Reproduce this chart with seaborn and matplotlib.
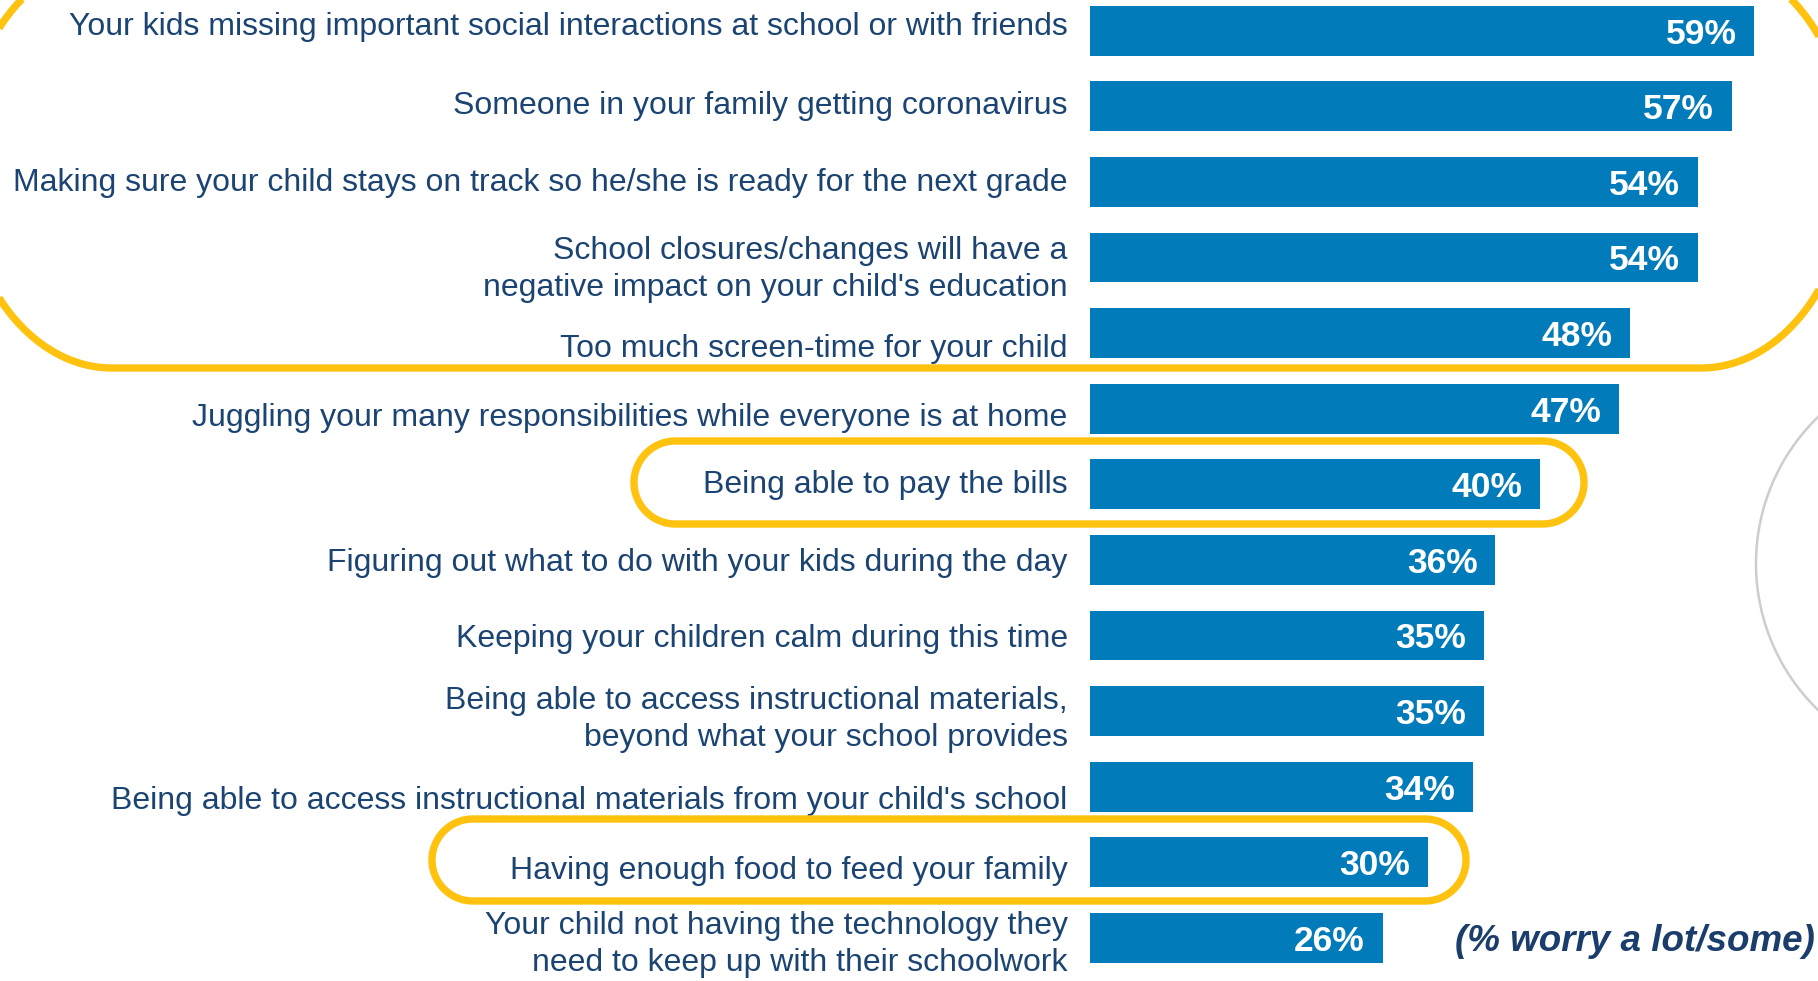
import numpy as np
import pandas as pd
import matplotlib
matplotlib.use("Agg")
import matplotlib.pyplot as plt
import seaborn as sns
from matplotlib.patches import Polygon
from matplotlib.transforms import ScaledTranslation

# ---------------- data ----------------
labels = [
    "Your kids missing important social interactions at school or with friends",
    "Someone in your family getting coronavirus",
    "Making sure your child stays on track so he/she is ready for the next grade",
    "School closures/changes will have a\nnegative impact on your child's education",
    "Too much screen-time for your child",
    "Juggling your many responsibilities while everyone is at home",
    "Being able to pay the bills",
    "Figuring out what to do with your kids during the day",
    "Keeping your children calm during this time",
    "Being able to access instructional materials,\nbeyond what your school provides",
    "Being able to access instructional materials from your child's school",
    "Having enough food to feed your family",
    "Your child not having the technology they\nneed to keep up with their schoolwork",
]
values = [59, 57, 54, 54, 48, 47, 40, 36, 35, 35, 34, 30, 26]
note_text = "(% worry a lot/some)"

# ---------------- layout / style ----------------
W, H, DPI = 1818, 981, 100
AX_LEFT_PX = 1090
PX_PER_PCT = 11.26
ROW0_PX, ROW_STEP_PX = 30.7, 75.6
label_nudge_px = [-7.5, -4, -2, 12, 12, 5.5, -2.4, 0, 0.4, 8, 10.8, 5.2, 7]

BAR = "#027BBB"
NAVY = "#1B4472"
NAVY2 = "#1A3D6B"
YEL = "#FFC20E"
GRAY = "#CDCDCD"

sns.set_theme(style="white")
plt.rcParams["font.family"] = ["Liberation Sans", "DejaVu Sans"]

fig = plt.figure(figsize=(W / DPI, H / DPI), dpi=DPI)
fig.patch.set_facecolor("white")
ax = fig.add_axes([AX_LEFT_PX / W, 0, 1 - AX_LEFT_PX / W, 1])

df = pd.DataFrame({"concern": labels, "pct": values})
sns.barplot(data=df, x="pct", y="concern", orient="h", color=BAR,
            saturation=1, width=0.66, linewidth=0, ax=ax)

ax.set_xlim(0, (W - AX_LEFT_PX) / PX_PER_PCT)
ax.set_ylim((H - ROW0_PX) / ROW_STEP_PX, -ROW0_PX / ROW_STEP_PX)
ax.axis("off")

# category labels
ytr = ax.get_yaxis_transform()
for i, (lab, nud) in enumerate(zip(labels, label_nudge_px)):
    multi = "\n" in lab
    tr = ytr + ScaledTranslation(-22.3 / DPI, -nud / DPI, fig.dpi_scale_trans)
    ax.text(0, i, lab, transform=tr, ha="right",
            va="center" if multi else "center_baseline",
            fontsize=23, color=NAVY, linespacing=1.31, clip_on=False)

# value labels inside bar ends
for bar, v in zip(ax.patches, values):
    yc = bar.get_y() + bar.get_height() / 2
    tr = ax.transData + ScaledTranslation(-18 / DPI, 0, fig.dpi_scale_trans)
    ax.text(bar.get_width(), yc, f"{v}%", transform=tr, ha="right",
            va="center_baseline", fontsize=25.5, fontweight="bold",
            color="white")

# note
ax.text((1815 - AX_LEFT_PX) / (W - AX_LEFT_PX), len(labels) - 1, note_text,
        transform=ax.get_yaxis_transform(), ha="right", va="center_baseline",
        fontsize=26.5, fontweight="bold", fontstyle="italic", color=NAVY2,
        clip_on=False)


# ---------------- highlight shapes (pixel layout, y down) ----------------
def to_fig(pts):
    return [(x / W, 1 - y / H) for x, y in pts]


def rounded(x0, y0, x1, y1, rx, ry, n=80):
    cx0, cx1 = x0 + rx, x1 - rx
    cy0, cy1 = y0 + ry, y1 - ry
    pts = []
    for cx, cy, a, b in [(cx1, cy0, -np.pi / 2, 0), (cx1, cy1, 0, np.pi / 2),
                         (cx0, cy1, np.pi / 2, np.pi), (cx0, cy0, np.pi, 1.5 * np.pi)]:
        th = np.linspace(a, b, n)
        pts += list(zip(cx + rx * np.cos(th), cy + ry * np.sin(th)))
    return pts


for box in [(-38, -42, 1851, 368, 150, 205),
            (634, 441, 1584, 524, 41.5, 41.5),
            (432, 819, 1466, 901, 41, 41)]:
    fig.add_artist(Polygon(to_fig(rounded(*box)), closed=True, fill=False,
                           edgecolor=YEL, lw=5.3, joinstyle="round",
                           transform=fig.transFigure))

th = np.linspace(0, 2 * np.pi, 400)
circ = list(zip(1960 + 204 * np.cos(th), 563.5 + 204 * np.sin(th)))
fig.add_artist(Polygon(to_fig(circ), closed=True, fill=False, edgecolor=GRAY,
                       lw=1.8, transform=fig.transFigure))

fig.savefig("out.png", dpi=DPI, facecolor="white")
